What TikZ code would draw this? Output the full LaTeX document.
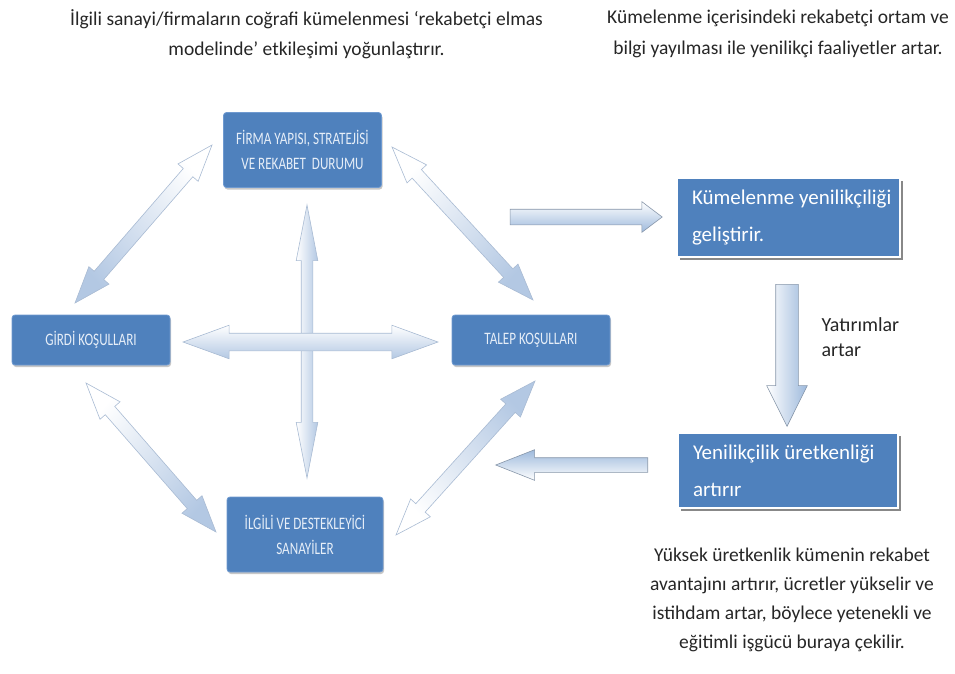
\documentclass[tikz,border=0pt]{standalone}
\usepackage{fontspec}
\setmainfont{Carlito}
\newfontfamily\condfont{Carlito}[FakeStretch=0.75]
\usetikzlibrary{shapes.arrows,shadows,calc}
\definecolor{boxblue}{HTML}{4F81BD}
\definecolor{boxedge}{HTML}{6F9AD0}
\definecolor{boxtext}{HTML}{E6EEF8}
\definecolor{arrowblue}{HTML}{B3C8E3}
\definecolor{arrowedge}{HTML}{A9BBD3}
\definecolor{blockblue}{HTML}{9DB9DC}
\definecolor{txt}{HTML}{262626}
\tikzset{
  dbox/.style={rectangle, rounded corners=3pt, fill=boxblue, draw=boxedge,
    line width=0.8pt, text=boxtext, align=center, inner sep=0pt,
    font=\condfont\fontsize{17.5}{25}\selectfont,
    drop shadow={shadow xshift=1pt, shadow yshift=-2pt, fill=black, opacity=0.22}},
  rbox/.style={rectangle, fill=boxblue, draw=white, line width=2.5pt,
    text=white, align=flush left, inner xsep=15pt, inner ysep=0pt,
    font=\fontsize{21}{37}\selectfont,
    drop shadow={shadow xshift=3pt, shadow yshift=-3pt, fill=gray!75!black, opacity=0.75}},
  dblarrow/.style={double arrow, inner xsep=0pt, minimum width=0pt, draw=arrowedge, line width=0.6pt,
    top color=white, bottom color=arrowblue, double arrow head indent=0pt},
  sglarrow/.style={single arrow, inner xsep=0pt, minimum width=0pt, draw=arrowedge!80!black, line width=0.6pt,
    top color=white, bottom color=blockblue, single arrow head indent=0pt},
  note/.style={text=txt, align=center, font=\fontsize{19.5}{30.5}\selectfont}
}
% #1 from, #2 to, #3 half shaft width, #4 head extend, #5 tip angle
\newcommand\dblarr[5]{%
  \path let \p1=($(#2)-(#1)$), \n1={atan2(\y1,\x1)}, \n2={veclen(\x1,\y1)} in
    node[dblarrow, rotate=\n1, shading angle=-\n1, minimum height=\n2,
      inner ysep=#3, double arrow head extend=#4, double arrow tip angle=#5]
    at ($(#1)!0.5!(#2)$) {};}
\newcommand\sglarr[5]{%
  \path let \p1=($(#2)-(#1)$), \n1={atan2(\y1,\x1)}, \n2={veclen(\x1,\y1)} in
    node[sglarrow, rotate=\n1, shading angle=-\n1, minimum height=\n2,
      inner ysep=#3, single arrow head extend=#4, single arrow tip angle=#5]
    at ($(#1)!0.5!(#2)$) {};}
\begin{document}
\begin{tikzpicture}[x=1pt,y=-1pt]
\useasboundingbox (0,0) rectangle (955,673);

% diamond boxes
\node[dbox, minimum width=158pt, minimum height=75pt] (firma) at (302.5,150)
  {FİRMA YAPISI, STRATEJİSİ\\VE REKABET\ \ DURUMU};
\node[dbox, minimum width=158pt, minimum height=50pt] (girdi) at (91,340) {GİRDİ KOŞULLARI};
\node[dbox, minimum width=158pt, minimum height=50pt] (talep) at (531,340) {TALEP KOŞULLARI};
\node[dbox, minimum width=156pt, minimum height=75pt] (ilgili) at (305,534.5)
  {İLGİLİ VE DESTEKLEYİCİ\\SANAYİLER};

% right boxes
\node[rbox, minimum width=223pt, minimum height=79pt, text width=193pt] (kume) at (788.5,217.5)
  {\mbox{Kümelenme yenilikçiliği}\\\mbox{geliştirir.}};
\node[rbox, minimum width=220pt, minimum height=75pt, text width=190pt] (yeni) at (788,470.5)
  {\mbox{Yenilikçilik üretkenliği}\\\mbox{artırır}};

% connector end points
\coordinate (ulA) at (75,303);   \coordinate (ulB) at (212,145);
\coordinate (urA) at (392,147);  \coordinate (urB) at (533,300);
\coordinate (llA) at (86,383);   \coordinate (llB) at (216,532);
\coordinate (lrA) at (535,381);  \coordinate (lrB) at (396,535);
\coordinate (vA) at (307,205);   \coordinate (vB) at (307,478);
\coordinate (hA) at (183,342);   \coordinate (hB) at (438,342);
\coordinate (rA) at (505,217);   \coordinate (rB) at (657,217);
\coordinate (dA) at (787,273);   \coordinate (dB) at (787,415);
\coordinate (lA) at (657,465);   \coordinate (lB) at (505,465);

\dblarr{ulA}{ulB}{6pt}{7pt}{40}
\dblarr{urA}{urB}{6pt}{7pt}{40}
\dblarr{llA}{llB}{6pt}{7pt}{40}
\dblarr{lrA}{lrB}{6pt}{7pt}{40}
\dblarr{vA}{vB}{5.5pt}{5pt}{22}
\dblarr{hA}{hB}{8.5pt}{8pt}{40}

\sglarr{rA}{rB}{7.5pt}{7.5pt}{74}
\sglarr{dA}{dB}{11pt}{9pt}{53}
\sglarr{lA}{lB}{7pt}{8pt}{43}

% texts
\node[note] (t1) at (306.5,34) {İlgili sanayi/firmaların coğrafi kümelenmesi ‘rekabetçi elmas\\modelinde’ etkileşimi yoğunlaştırır.};
\node[note] (t2) at (778,34) {Kümelenme içerisindeki rekabetçi ortam ve\\bilgi yayılması ile yenilikçi faaliyetler artar.};
\node[note, font=\fontsize{19.5}{29}\selectfont] (t3) at (792,600) {Yüksek üretkenlik kümenin rekabet\\avantajını artırır, ücretler yükselir ve\\istihdam artar, böylece yetenekli ve\\eğitimli işgücü buraya çekilir.};
\node[note, align=flush left, anchor=west, font=\fontsize{20}{25}\selectfont] (t4) at (818,337) {Yatırımlar\\artar};
\end{tikzpicture}
\end{document}
